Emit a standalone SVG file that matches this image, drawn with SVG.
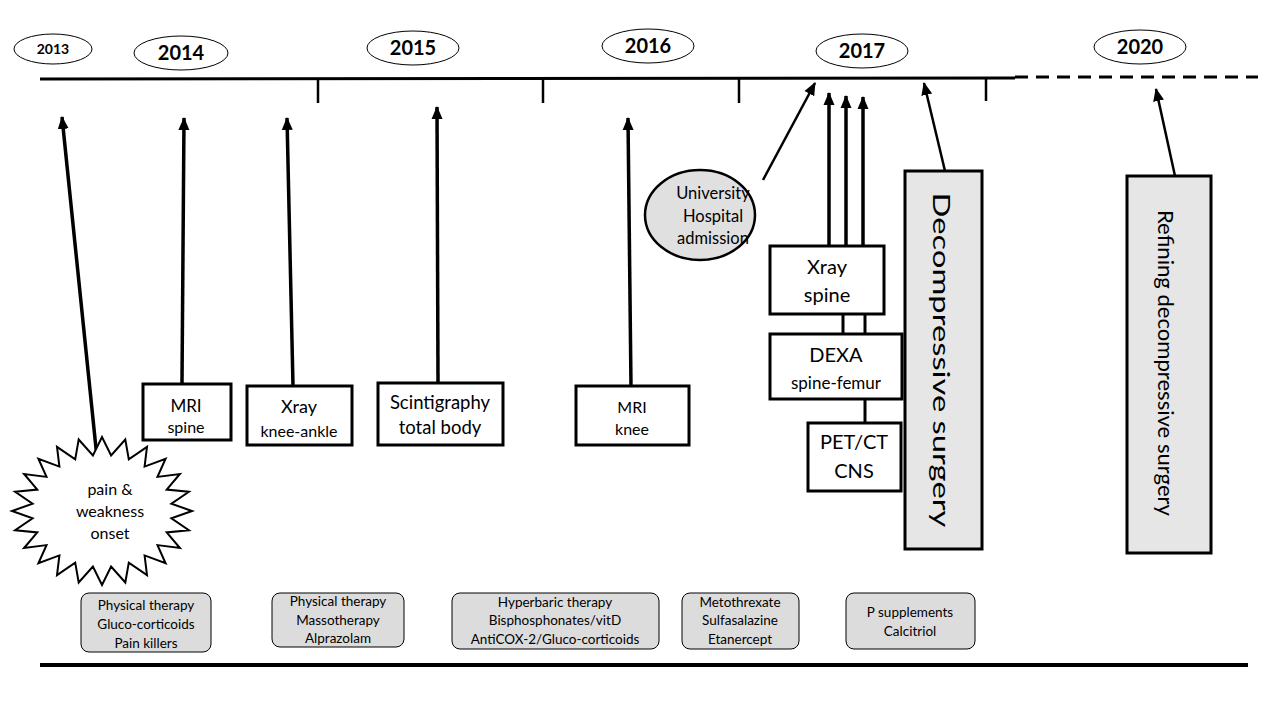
<svg xmlns="http://www.w3.org/2000/svg" width="1280" height="720" viewBox="0 0 1280 720">
<defs>
<marker id="ah" markerUnits="userSpaceOnUse" markerWidth="14" markerHeight="14" viewBox="0 0 14 14" refX="12" refY="7" orient="auto">
<path d="M0,1.5 L13,7 L0,12.5 Z" fill="#000"/>
</marker>
<style>
text{font-family:Lato,"Liberation Sans",sans-serif;fill:#000;text-anchor:middle}
.yr{font-weight:bold;font-size:20px}
.ye{fill:#fff;stroke:#000;stroke-width:1}
.box{fill:#fff;stroke:#000;stroke-width:3}
.gbox{fill:#e6e6e6;stroke:#000;stroke-width:3}
.tr{fill:#dcdcdc;stroke:#000;stroke-width:1}
.t13{font-size:13.5px}
.ar{stroke:#000;stroke-width:3.5;fill:none;marker-end:url(#ah)}
.ar2{stroke:#000;stroke-width:2.5;fill:none;marker-end:url(#ah)}
.ln{stroke:#000;stroke-width:3;fill:none}
</style>
</defs>
<g id="timeline">
<line x1="40" y1="79" x2="1015" y2="78" stroke="#000" stroke-width="3"/>
<line x1="1015" y1="77" x2="1258" y2="77" stroke="#000" stroke-width="3" stroke-dasharray="13,8"/>
<line x1="318" y1="79" x2="318" y2="103" stroke="#000" stroke-width="2.5"/>
<line x1="543" y1="79" x2="543" y2="103" stroke="#000" stroke-width="2.5"/>
<line x1="739" y1="78" x2="739" y2="103" stroke="#000" stroke-width="2.5"/>
<line x1="986" y1="78" x2="986" y2="101" stroke="#000" stroke-width="2.5"/>
<line x1="40" y1="665" x2="1248" y2="665" stroke="#000" stroke-width="4"/>
</g>
<g id="y2013"><ellipse class="ye" cx="53" cy="49" rx="39" ry="15"/><text class="yr" x="53" y="54" style="font-size:14px">2013</text></g>
<g id="y2014"><ellipse class="ye" cx="181" cy="53" rx="47" ry="17"/><text class="yr" x="181" y="60">2014</text></g>
<g id="y2015"><ellipse class="ye" cx="413" cy="48" rx="46" ry="17"/><text class="yr" x="413" y="55">2015</text></g>
<g id="y2016"><ellipse class="ye" cx="648" cy="46" rx="46" ry="17"/><text class="yr" x="648" y="53">2016</text></g>
<g id="y2017"><ellipse class="ye" cx="862" cy="51" rx="46" ry="17"/><text class="yr" x="862" y="58">2017</text></g>
<g id="y2020"><ellipse class="ye" cx="1140" cy="47" rx="46" ry="17"/><text class="yr" x="1140" y="54">2020</text></g>
<g id="connectors">
<line class="ar" x1="97" y1="458" x2="62" y2="117"/>
<line class="ar" x1="182" y1="383" x2="184" y2="118"/>
<line class="ar" x1="293" y1="386" x2="287" y2="118"/>
<line class="ar" x1="438" y1="382" x2="437" y2="107"/>
<line class="ar" x1="631" y1="386" x2="628" y2="118"/>
<line class="ar2" x1="763" y1="180" x2="815" y2="83"/>
<line class="ar" x1="829" y1="246" x2="829" y2="93"/>
<line class="ar" x1="846" y1="246" x2="846" y2="96"/>
<line class="ar" x1="863" y1="246" x2="863" y2="97"/>
<line class="ln" x1="843" y1="314" x2="843" y2="334"/>
<line class="ln" x1="865" y1="314" x2="865" y2="334"/>
<line class="ln" x1="865" y1="399" x2="865" y2="423"/>
<line class="ar2" x1="945" y1="171" x2="924" y2="83"/>
<line class="ar2" x1="1175" y1="176" x2="1156" y2="89"/>
</g>
<g id="onset">
<polygon fill="#fff" stroke="#000" stroke-width="2" points="192,511 171.4,518.3 188.9,530.2 166.7,532.4 179.9,548 157.5,545.1 165.6,563.3 144.6,555.4 147,575.1 128.8,562.7 125.3,582.5 111.1,566.5 102,585 92.9,566.5 78.7,582.5 75.2,562.7 57,575.1 59.4,555.4 38.4,563.3 46.5,545.1 24.1,548 37.3,532.4 15.1,530.2 32.6,518.3 12,511 32.6,503.7 15.1,491.8 37.3,489.6 24.1,474 46.5,476.9 38.4,458.7 59.4,466.6 57,446.9 75.2,459.3 78.7,439.5 92.9,455.5 102,437 111.1,455.5 125.3,439.5 128.8,459.3 147,446.9 144.6,466.6 165.6,458.7 157.5,476.9 179.9,474 166.7,489.6 188.9,491.8 171.4,503.7"/>
<text x="110" y="495" style="font-size:16px">pain &amp;</text>
<text x="110" y="517" style="font-size:16px">weakness</text>
<text x="110" y="539" style="font-size:16px">onset</text>
</g>
<g id="mri-spine"><rect class="box" x="143" y="384" width="88" height="56"/><text x="186" y="412" style="font-size:17px">MRI</text><text x="186" y="433" style="font-size:16px">spine</text></g>
<g id="xray-knee"><rect class="box" x="247" y="386" width="105" height="59"/><text x="299" y="413" style="font-size:18px">Xray</text><text x="299" y="437" style="font-size:16px">knee-ankle</text></g>
<g id="scinti"><rect class="box" x="378" y="383" width="125" height="62"/><text x="440" y="409" style="font-size:18.5px">Scintigraphy</text><text x="440" y="434" style="font-size:18.5px">total body</text></g>
<g id="mri-knee"><rect class="box" x="576" y="386" width="113" height="59"/><text x="632" y="413" style="font-size:16px">MRI</text><text x="632" y="435" style="font-size:16px">knee</text></g>
<g id="university"><ellipse cx="700" cy="215" rx="55" ry="45" fill="#e0e0e0" stroke="#000" stroke-width="2.5"/><text x="713" y="199" style="font-size:16.5px">University</text><text x="713" y="222" style="font-size:16.5px">Hospital</text><text x="713" y="244" style="font-size:16.5px">admission</text></g>
<g id="xray-spine"><rect class="box" x="770" y="246" width="114" height="68"/><text x="827" y="274" style="font-size:20px">Xray</text><text x="827" y="302" style="font-size:20px">spine</text></g>
<g id="dexa"><rect class="box" x="770" y="334" width="132" height="65"/><text x="836" y="362" style="font-size:20px">DEXA</text><text x="836" y="389" style="font-size:17px">spine-femur</text></g>
<g id="petct"><rect class="box" x="808" y="423" width="93" height="68"/><text x="854" y="449" style="font-size:20px">PET/CT</text><text x="854" y="478" style="font-size:20px">CNS</text></g>
<g id="decomp"><rect class="gbox" x="905" y="171" width="77" height="378"/><text transform="translate(942,360) rotate(90)" dominant-baseline="central" textLength="335" lengthAdjust="spacingAndGlyphs" style="font-size:23px">Decompressive surgery</text></g>
<g id="refining"><rect class="gbox" x="1127" y="176" width="84" height="377"/><text transform="translate(1166,363) rotate(90)" dominant-baseline="central" textLength="306" lengthAdjust="spacingAndGlyphs" style="font-size:21px">Refining decompressive surgery</text></g>
<g id="t1"><rect class="tr" x="81" y="593" width="130" height="59" rx="8"/><text class="t13" x="146" y="610">Physical therapy</text><text class="t13" x="146" y="629">Gluco-corticoids</text><text class="t13" x="146" y="648">Pain killers</text></g>
<g id="t2"><rect class="tr" x="272" y="593" width="132" height="54" rx="8"/><text class="t13" x="338" y="606">Physical therapy</text><text class="t13" x="338" y="625">Massotherapy</text><text class="t13" x="338" y="643">Alprazolam</text></g>
<g id="t3"><rect class="tr" x="452" y="593" width="207" height="56" rx="8"/><text class="t13" x="555" y="607">Hyperbaric therapy</text><text class="t13" x="555" y="625">Bisphosphonates/vitD</text><text class="t13" x="555" y="644">AntiCOX-2/Gluco-corticoids</text></g>
<g id="t4"><rect class="tr" x="682" y="593" width="117" height="56" rx="8"/><text class="t13" x="740" y="607">Metothrexate</text><text class="t13" x="740" y="625">Sulfasalazine</text><text class="t13" x="740" y="644">Etanercept</text></g>
<g id="t5"><rect class="tr" x="846" y="593" width="129" height="56" rx="8"/><text class="t13" x="910" y="617">P supplements</text><text class="t13" x="910" y="636">Calcitriol</text></g>
</svg>
